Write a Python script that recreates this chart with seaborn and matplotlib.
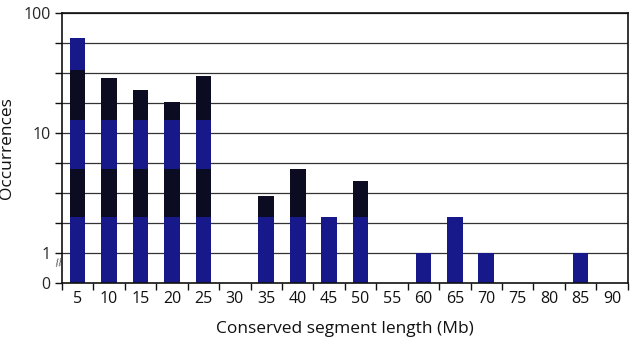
import numpy as np
import pandas as pd
import matplotlib
matplotlib.use("Agg")
import matplotlib.pyplot as plt
import seaborn as sns
from matplotlib.ticker import FixedLocator, NullFormatter, FixedFormatter

lengths = ["5", "10", "15", "20", "25", "30", "35", "40", "45", "50",
           "55", "60", "65", "70", "75", "80", "85", "90"]
occurrences = [62, 29, 23, 18, 30, 0, 3, 5, 2, 4, 0, 1, 2, 1, 0, 0, 1, 0]

sns.set_theme(style="white")
plt.rcParams['font.family'] = ['Open Sans', 'DejaVu Sans']

df = pd.DataFrame({"length": lengths, "count": occurrences})
nz = df[df["count"] > 0].copy()

fig = plt.figure(figsize=(6.38, 3.52), dpi=100)
ax = fig.add_axes([0.097, 0.196, 0.887, 0.767])
ax.set_yscale("log")

blue = "#17188a"
dark = "#0b0b22"
# scanned print shows alternating dark bands in the bars
layers = [(np.inf, blue), (33.5, dark), (12.8, blue), (5.0, dark), (2.0, blue)]
for thr, col in layers:
    nz["h"] = np.minimum(nz["count"], thr)
    sns.barplot(data=nz, x="length", y="h", order=lengths, color=col,
                width=0.5, saturation=1, errorbar=None, linewidth=0,
                edgecolor=col, ax=ax)

y0 = 10 ** -0.25
ax.set_ylim(y0, 100)
ax.set_xlim(-0.5, len(lengths) - 0.5)

grid_vals = [10 ** (k / 4) for k in range(-1, 9)]
ax.yaxis.set_major_locator(FixedLocator([y0, 1, 10, 100]))
ax.yaxis.set_major_formatter(FixedFormatter(["0", "1", "10", "100"]))
ax.yaxis.set_minor_locator(FixedLocator(grid_vals))
ax.yaxis.set_minor_formatter(NullFormatter())
for g in grid_vals[1:]:
    ax.axhline(g, color="#333333", lw=0.9, zorder=0)

ax.xaxis.set_minor_locator(FixedLocator(np.arange(-0.5, len(lengths), 1)))
ax.tick_params(axis="x", which="major", length=0, labelsize=11.5, pad=6, colors="#111111")
ax.tick_params(axis="x", which="minor", length=5, width=1, color="#111111", direction="out", bottom=True)
ax.tick_params(axis="y", which="both", length=5, width=1, color="#111111", direction="out", left=True, labelsize=11.5)
ax.tick_params(axis="y", which="major", pad=3)

for s in ax.spines.values():
    s.set_color("#111111")
    s.set_linewidth(1.2)

ax.set_xlabel("Conserved segment length (Mb)", fontsize=12.5, labelpad=10, color="#111111")
ax.set_ylabel("Occurrences", fontsize=12.5, labelpad=6, color="#111111")

ax.text(-0.004, 0.07, "//", transform=ax.transAxes, fontsize=8, color="#444444",
        ha="center", va="center", rotation=10)

fig.savefig("out.png", dpi=100)
